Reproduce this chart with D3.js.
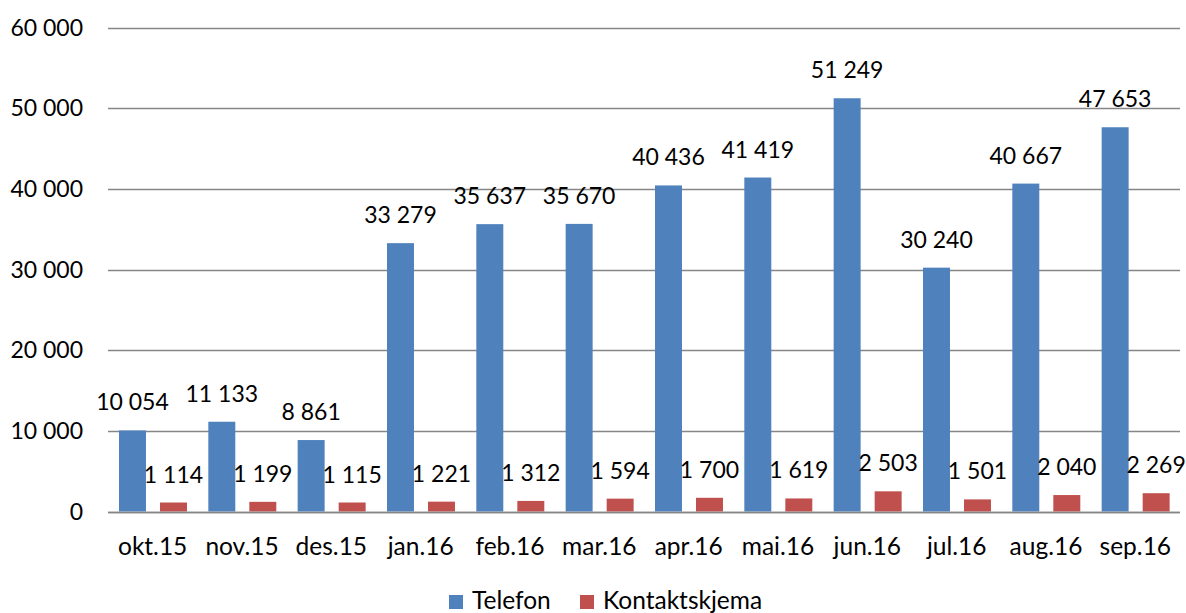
<!DOCTYPE html>
<html><head><meta charset="utf-8">
<script src="https://cdn.jsdelivr.net/npm/d3@7"></script>
<style>
html,body{margin:0;padding:0;background:#fff;}
text{font-family:"Lato","Liberation Sans",sans-serif;fill:#000;}
</style></head>
<body>
<svg id="chart" width="1186" height="613"></svg>
<script>
const categories = ["okt.15","nov.15","des.15","jan.16","feb.16","mar.16","apr.16","mai.16","jun.16","jul.16","aug.16","sep.16"];
const seriesNames = ["Telefon","Kontaktskjema"];
const telefon = [10054,11133,8861,33279,35637,35670,40436,41419,51249,30240,40667,47653];
const kontaktskjema = [1114,1199,1115,1221,1312,1594,1700,1619,2503,1501,2040,2269];
const yTicks = [0,10000,20000,30000,40000,50000,60000];
const colors = ["#4F81BD","#C0504D"];

(function(){
const svg = d3.select("#chart");
const pLeft = 108, pRight = 1180, pTop = 27.7, pBottom = 511.5;
const fmt = v => d3.format(",")(v).replace(/,/g, " ");

const x = d3.scaleBand().domain(categories).range([pLeft, pRight]).paddingInner(0).paddingOuter(0);
const y = d3.scaleLinear().domain([0, 60000]).range([pBottom, pTop]);

// gridlines
svg.append("g").selectAll("line").data(yTicks).join("line")
  .attr("x1", pLeft).attr("x2", pRight)
  .attr("y1", d => Math.round(y(d)) + 0.5).attr("y2", d => Math.round(y(d)) + 0.5)
  .attr("stroke", "#868686").attr("stroke-width", 1.3);

// y labels
svg.append("g").selectAll("text").data(yTicks).join("text")
  .attr("x", 83).attr("y", d => y(d) + 8)
  .attr("text-anchor", "end").attr("font-size", 23)
  .text(d => fmt(d));

const data = [telefon, kontaktskjema];
const bw = x.bandwidth();
const barW = bw * 0.302;
const offsets = [bw * 0.123, bw * 0.582];

data.forEach((vals, si) => {
  const g = svg.append("g");
  g.selectAll("rect").data(vals).join("rect")
    .attr("x", (d, i) => x(categories[i]) + offsets[si])
    .attr("y", d => y(d))
    .attr("width", barW)
    .attr("height", d => y(0) - y(d))
    .attr("fill", colors[si]);
  g.selectAll("text").data(vals).join("text")
    .attr("x", (d, i) => x(categories[i]) + offsets[si] + barW / 2)
    .attr("y", d => y(d) - 20)
    .attr("text-anchor", "middle").attr("font-size", 23)
    .text(d => fmt(d));
});

// baseline axis
svg.append("line").attr("x1", pLeft).attr("x2", pRight)
  .attr("y1", Math.round(y(0)) + 0.5).attr("y2", Math.round(y(0)) + 0.5)
  .attr("stroke", "#868686").attr("stroke-width", 1.3);

// x labels
svg.append("g").selectAll("text").data(categories).join("text")
  .attr("x", d => x(d) + bw / 2).attr("y", 555)
  .attr("text-anchor", "middle").attr("font-size", 24.5)
  .text(d => d);

// legend
const legendX = [449, 580];
seriesNames.forEach((n, i) => {
  svg.append("rect").attr("x", legendX[i]).attr("y", 595).attr("width", 14).attr("height", 14).attr("fill", colors[i]);
  svg.append("text").attr("x", legendX[i] + 23).attr("y", 609).attr("font-size", 24.5).text(n);
});
})();
</script>
</body></html>
